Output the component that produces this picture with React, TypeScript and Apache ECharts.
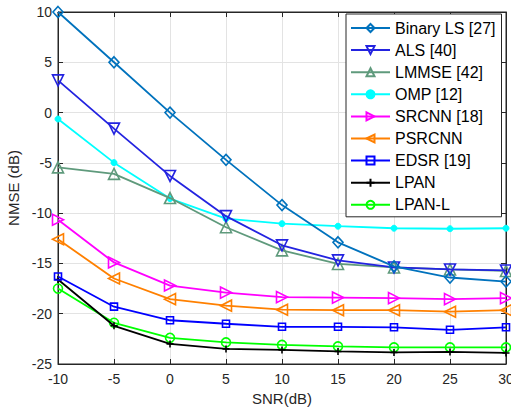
import React, { useEffect, useRef } from "react";
import * as echarts from "echarts";

const snr = [-10, -5, 0, 5, 10, 15, 20, 25, 30];
const xTicks = [-10, -5, 0, 5, 10, 15, 20, 25, 30];
const yTicks = [-25, -20, -15, -10, -5, 0, 5, 10];

const binaryLS = [10, 5, 0, -4.7, -9.2, -12.9, -15.3, -16.4, -16.8];
const als = [3.2, -1.6, -6.3, -10.3, -13.2, -14.7, -15.4, -15.6, -15.7];
const lmmse = [-5.45, -6.1, -8.5, -11.4, -13.7, -15.05, -15.4, -15.6, -15.75];
const omp = [-0.64, -4.98, -8.55, -10.55, -11.05, -11.3, -11.5, -11.55, -11.5];
const srcnn = [-10.65, -14.9, -17.2, -17.9, -18.35, -18.4, -18.45, -18.55, -18.45];
const psrcnn = [-12.6, -16.5, -18.55, -19.2, -19.6, -19.65, -19.65, -19.8, -19.65];
const edsr = [-16.3, -19.3, -20.65, -21.0, -21.3, -21.3, -21.35, -21.6, -21.35];
const lpan = [-16.6, -21.2, -23.0, -23.5, -23.6, -23.75, -23.85, -23.8, -23.9];
const lpanL = [-17.5, -20.9, -22.4, -22.85, -23.1, -23.25, -23.35, -23.35, -23.35];

const seriesNames = [
  "Binary LS [27]",
  "ALS [40]",
  "LMMSE [42]",
  "OMP [12]",
  "SRCNN [18]",
  "PSRCNN",
  "EDSR [19]",
  "LPAN",
  "LPAN-L",
];

const seriesValues = [binaryLS, als, lmmse, omp, srcnn, psrcnn, edsr, lpan, lpanL];
const seriesColors = [
  "#0072BD",
  "#2323e0",
  "#5f9a7c",
  "#00FFFF",
  "#FF00FF",
  "#FF8000",
  "#0000FF",
  "#000000",
  "#00FF00",
];

const plusPath = "path://M5,0L5,10M0,5L10,5";

const symbolDefs: { symbol: string; size: number | number[]; rotate: number; filled: boolean }[] = [
  { symbol: "diamond", size: [10, 11], rotate: 0, filled: false },
  { symbol: "triangle", size: 11, rotate: 180, filled: false },
  { symbol: "triangle", size: 11, rotate: 0, filled: false },
  { symbol: "circle", size: 6, rotate: 0, filled: true },
  { symbol: "triangle", size: 11, rotate: -90, filled: false },
  { symbol: "triangle", size: 11, rotate: 90, filled: false },
  { symbol: "rect", size: 7, rotate: 0, filled: false },
  { symbol: plusPath, size: 7, rotate: 0, filled: false },
  { symbol: "circle", size: 9, rotate: 0, filled: false },
];

const FONT = "Liberation Sans, Arial, Helvetica, sans-serif";
const AX = "#262626";

export default function App() {
  const ref = useRef<HTMLDivElement>(null);

  useEffect(() => {
    if (!ref.current) return;
    const chart = echarts.init(ref.current, undefined, { renderer: "svg" });

    const series = seriesNames.map((name, i) => {
      const def = symbolDefs[i];
      const c = seriesColors[i];
      return {
        name,
        type: "line",
        data: snr.map((x, j) => [x, seriesValues[i][j]]),
        symbol: def.symbol,
        symbolSize: def.size,
        symbolRotate: def.rotate,
        showAllSymbol: true,
        lineStyle: { color: c, width: 1.8 },
        itemStyle: def.filled
          ? { color: c, borderColor: c, borderWidth: 1 }
          : { color: "rgba(0,0,0,0)", borderColor: c, borderWidth: 1.6 },
        emphasis: { disabled: true },
        z: 10 - i,
      };
    });

    const commonAxisLine = { show: true, onZero: false, lineStyle: { color: AX, width: 1 } };

    chart.setOption({
      animation: false,
      backgroundColor: "#ffffff",
      grid: {
        left: 58,
        right: 5,
        top: 12,
        bottom: 43,
        outerBoundsMode: "none",
        containLabel: false,
        show: true,
        borderColor: AX,
        borderWidth: 1,
        backgroundColor: "#ffffff",
      },
      legend: {
        orient: "vertical",
        left: 346,
        top: 14,
        itemWidth: 39,
        itemHeight: 10,
        itemGap: 6.1,
        padding: [6, 6, 4, 4],
        backgroundColor: "#ffffff",
        borderColor: AX,
        borderWidth: 1,
        borderRadius: 0,
        textStyle: { fontFamily: FONT, fontSize: 16, color: "#000000" },
        data: seriesNames,
        selectedMode: false,
      },
      xAxis: [
        {
          type: "value",
          min: -10,
          max: 30,
          interval: 5,
          name: "SNR(dB)",
          nameLocation: "middle",
          nameGap: 25,
          nameTextStyle: { fontFamily: FONT, fontSize: 15, color: AX },
          axisLine: commonAxisLine,
          axisTick: { show: true, inside: true, length: 5, lineStyle: { color: AX } },
          axisLabel: {
            fontFamily: FONT,
            fontSize: 14,
            color: AX,
            margin: 8,
            formatter: (v: number) => (xTicks.includes(v) ? String(v) : ""),
          },
          splitLine: { show: true, lineStyle: { color: "#e3e3e3", width: 1 } },
        },
        {
          type: "value",
          position: "top",
          min: -10,
          max: 30,
          interval: 5,
          axisLine: commonAxisLine,
          axisTick: { show: true, inside: true, length: 5, lineStyle: { color: AX } },
          axisLabel: { show: false },
          splitLine: { show: false },
        },
      ],
      yAxis: [
        {
          type: "value",
          min: -25,
          max: 10,
          interval: 5,
          name: "NMSE (dB)",
          nameLocation: "middle",
          nameGap: 31,
          nameTextStyle: { fontFamily: FONT, fontSize: 15, color: AX },
          axisLine: commonAxisLine,
          axisTick: { show: true, inside: true, length: 5, lineStyle: { color: AX } },
          axisLabel: {
            fontFamily: FONT,
            fontSize: 14,
            color: AX,
            margin: 6,
            formatter: (v: number) => (yTicks.includes(v) ? String(v) : ""),
          },
          splitLine: { show: true, lineStyle: { color: "#e3e3e3", width: 1 } },
        },
        {
          type: "value",
          position: "right",
          min: -25,
          max: 10,
          interval: 5,
          axisLine: commonAxisLine,
          axisTick: { show: true, inside: true, length: 5, lineStyle: { color: AX } },
          axisLabel: { show: false },
          splitLine: { show: false },
        },
      ],
      series,
    });

    return () => chart.dispose();
  }, []);

  return (
    <div
      ref={ref}
      style={{ position: "fixed", left: 0, top: 0, width: 511, height: 407, background: "#fff" }}
    />
  );
}
